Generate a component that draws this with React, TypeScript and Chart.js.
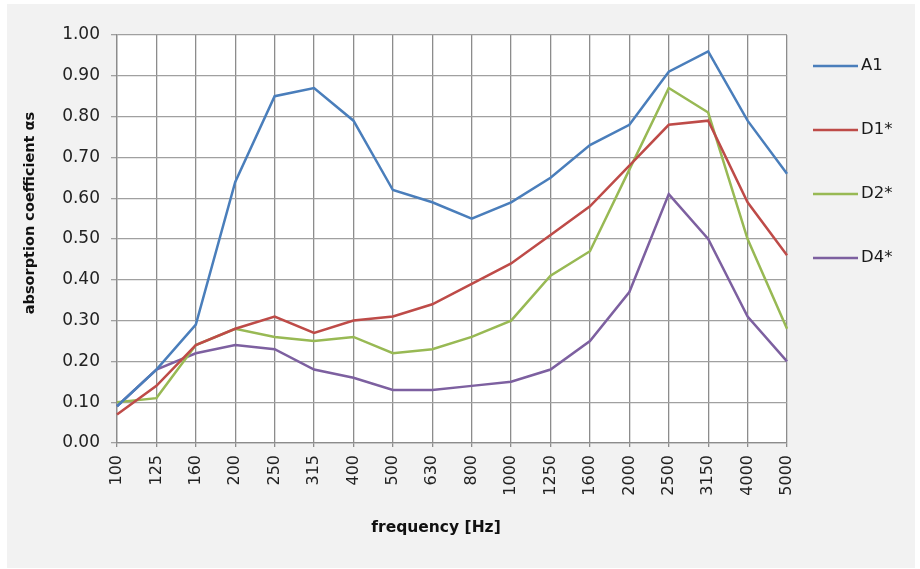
import React, { useEffect, useRef } from "react";
import { Chart, registerables } from "chart.js";

Chart.register(...registerables);

const frequencies = ["100", "125", "160", "200", "250", "315", "400", "500", "630", "800", "1000", "1250", "1600", "2000", "2500", "3150", "4000", "5000"];
const seriesA1 = [0.09, 0.18, 0.29, 0.64, 0.85, 0.87, 0.79, 0.62, 0.59, 0.55, 0.59, 0.65, 0.73, 0.78, 0.91, 0.96, 0.79, 0.66];
const seriesD1 = [0.07, 0.14, 0.24, 0.28, 0.31, 0.27, 0.30, 0.31, 0.34, 0.39, 0.44, 0.51, 0.58, 0.68, 0.78, 0.79, 0.59, 0.46];
const seriesD2 = [0.10, 0.11, 0.24, 0.28, 0.26, 0.25, 0.26, 0.22, 0.23, 0.26, 0.30, 0.41, 0.47, 0.67, 0.87, 0.81, 0.50, 0.28];
const seriesD4 = [0.09, 0.18, 0.22, 0.24, 0.23, 0.18, 0.16, 0.13, 0.13, 0.14, 0.15, 0.18, 0.25, 0.37, 0.61, 0.50, 0.31, 0.20];
const seriesNames = ["A1", "D1*", "D2*", "D4*"];
const seriesColors = ["#4a7ebb", "#be4b48", "#98b954", "#7d60a0"];
const yTitle = "absorption coefficient \u03b1s";
const xTitle = "frequency [Hz]";

const FONT = "DejaVu Sans";

const areaBgPlugin = {
  id: "areaBg",
  beforeDraw(chart: any) {
    const ctx = chart.ctx;
    const a = chart.chartArea;
    ctx.save();
    ctx.fillStyle = "#f2f2f2";
    ctx.fillRect(0, 0, chart.width, chart.height);
    ctx.fillStyle = "#ffffff";
    ctx.fillRect(a.left, a.top, a.right - a.left, a.bottom - a.top);
    ctx.restore();
  },
};

const overlayPlugin = {
  id: "overlay",
  afterDraw(chart: any) {
    const ctx = chart.ctx;
    const area = chart.chartArea;
    ctx.save();
    chart.data.datasets.forEach((ds: any, i: number) => {
      const y = area.top + 31 + i * 64;
      ctx.strokeStyle = ds.borderColor;
      ctx.lineWidth = 2.5;
      ctx.beginPath();
      ctx.moveTo(area.right + 26, y);
      ctx.lineTo(area.right + 71, y);
      ctx.stroke();
      ctx.fillStyle = "#1a1a1a";
      ctx.font = `16.5px ${FONT}`;
      ctx.textAlign = "left";
      ctx.textBaseline = "middle";
      ctx.fillText(ds.label, area.right + 74, y);
    });
    ctx.fillStyle = "#111";
    ctx.font = `bold 15.5px ${FONT}`;
    ctx.textAlign = "center";
    ctx.textBaseline = "middle";
    ctx.fillText(xTitle, 429, 524);
    ctx.font = `bold 14.5px ${FONT}`;
    ctx.save();
    ctx.translate(23, 209);
    ctx.rotate(-Math.PI / 2);
    ctx.fillText(yTitle, 0, 0);
    ctx.restore();
    ctx.restore();
  },
};

export default function App() {
  const ref = useRef<HTMLCanvasElement | null>(null);

  useEffect(() => {
    document.body.style.margin = "0";
    const seriesValues = [seriesA1, seriesD1, seriesD2, seriesD4];
    const chart = new Chart(ref.current as HTMLCanvasElement, {
      type: "line",
      data: {
        labels: frequencies,
        datasets: seriesNames.map((name, i) => ({
          label: name,
          data: seriesValues[i],
          borderColor: seriesColors[i],
          backgroundColor: seriesColors[i],
          borderWidth: 2.5,
          pointRadius: 0,
          tension: 0,
          fill: false,
        })),
      },
      options: {
        responsive: false,
        animation: false,
        layout: { padding: { left: 0, top: 31, right: 128, bottom: 0 } },
        plugins: { legend: { display: false }, tooltip: { enabled: false } },
        scales: {
          x: {
            offset: false,
            afterFit: (s: any) => {
              s.height = 125;
            },
            grid: { color: "#8c8c8c", lineWidth: 1.3, tickLength: 4, drawTicks: true },
            border: { color: "#8c8c8c", width: 1.3 },
            ticks: {
              color: "#222",
              font: { family: FONT, size: 16 },
              minRotation: 90,
              maxRotation: 90,
              padding: 8,
              autoSkip: false,
            },
          },
          y: {
            min: 0,
            max: 1,
            afterFit: (s: any) => {
              s.width = 110;
            },
            grid: { color: "#a0a0a0", lineWidth: 1.3, tickLength: 6 },
            border: { color: "#8c8c8c", width: 1.3 },
            ticks: {
              stepSize: 0.1,
              color: "#222",
              font: { family: FONT, size: 17 },
              padding: 11,
              callback: (v: any) => Number(v).toFixed(2),
            },
          },
        },
      },
      plugins: [areaBgPlugin, overlayPlugin],
    });
    return () => chart.destroy();
  }, []);

  return (
    <div style={{ width: 920, height: 569, background: "#fff", position: "relative", overflow: "hidden" }}>
      <canvas
        ref={ref}
        width={908}
        height={564}
        style={{ position: "absolute", left: 7, top: 4, width: 908, height: 564 }}
      />
    </div>
  );
}
